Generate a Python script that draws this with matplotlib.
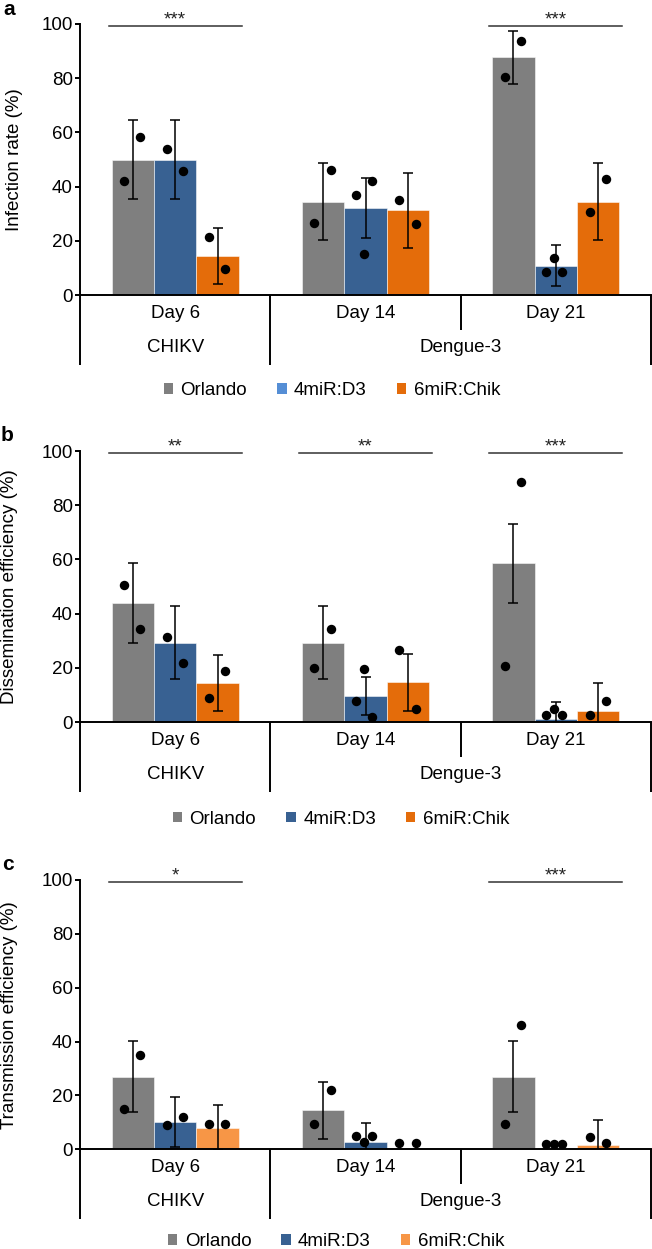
import matplotlib
matplotlib.use('Agg')
import matplotlib.pyplot as plt
from matplotlib.patches import Patch
from matplotlib.transforms import blended_transform_factory

plt.rcParams['font.family'] = ['Liberation Sans', 'DejaVu Sans']

# ---------------- data ----------------
days = ['Day 6', 'Day 14', 'Day 21']
viruses = ['CHIKV', 'Dengue-3']
virus_first_cat = [0, 1]
virus_n_cats = [1, 2]
series = ['Orlando', '4miR:D3', '6miR:Chik']

# Panel a: infection rate
a_orlando = [50.0, 34.4, 87.7]
a_orlando_err = [14.7, 14.2, 9.7]
a_orlando_pts = [[42.2, 58.2], [26.6, 46.1], [80.6, 93.6]]
a_d3 = [50.0, 32.0, 10.8]
a_d3_err = [14.7, 11.1, 7.5]
a_d3_pts = [[53.9, 45.8], [36.8, 15.1, 42.2], [8.6, 13.8, 8.6]]
a_chik = [14.4, 31.2, 34.4]
a_chik_err = [10.3, 13.8, 14.2]
a_chik_pts = [[21.4, 9.5], [35.1, 26.2], [30.6, 42.7]]
a_sig = ['***', '', '***']

# Panel b: dissemination efficiency
b_orlando = [43.9, 29.3, 58.6]
b_orlando_err = [14.6, 13.5, 14.6]
b_orlando_pts = [[50.6, 34.5], [20.1, 34.2], [20.8, 88.4]]
b_d3 = [29.2, 9.6, 1.1]
b_d3_err = [13.5, 7.0, 6.4]
b_d3_pts = [[31.2, 21.8], [7.9, 19.4, 2.0], [2.5, 4.7, 2.5]]
b_chik = [14.5, 14.6, 4.1]
b_chik_err = [10.3, 10.4, 10.4]
b_chik_pts = [[9.0, 18.9], [26.7, 4.7], [2.5, 7.8]]
b_sig = ['**', '**', '***']

# Panel c: transmission efficiency
c_orlando = [27.0, 14.5, 27.0]
c_orlando_err = [13.3, 10.5, 13.3]
c_orlando_pts = [[15.0, 34.9], [9.5, 21.9], [9.5, 46.1]]
c_d3 = [10.1, 2.6, 0.0]
c_d3_err = [9.2, 7.0, 0.0]
c_d3_pts = [[9.1, 12.1], [4.8, 2.8, 4.8], [2.0, 2.0, 2.0]]
c_chik = [8.0, 0.0, 1.7]
c_chik_err = [8.4, 0.0, 9.2]
c_chik_pts = [[9.4, 9.4], [2.5, 2.5], [4.6, 2.3]]
c_sig = ['*', '', '***']

ylabels = ['Infection rate (%)', 'Dissemination efficiency (%)',
           'Transmission efficiency (%)']
letters = ['a', 'b', 'c']
y_ticks = [0, 20, 40, 60, 80, 100]

# ---------------- style ----------------
W, H = 652, 1249
GRAY = '#7F7F7F'
BLUE = '#386192'
ORANGE = '#E46C0A'
LORANGE = '#F79646'
LBLUE = '#558ED5'
bar_colors = [[GRAY, BLUE, ORANGE], [GRAY, BLUE, ORANGE], [GRAY, BLUE, LORANGE]]
legend_colors = [[GRAY, LBLUE, ORANGE], [GRAY, BLUE, ORANGE], [GRAY, BLUE, LORANGE]]
FS = 13.5
LW = 1.4
BW = 0.223
# axes placement in pixels: (left, top(=100), right, bottom(=0))
axes_px = [(80, 24, 651, 295), (80, 451, 651, 722), (80, 880, 651, 1149.3)]
ylabel_x = [15, 10, 10]
letter_pos = [(3, 15), (1, 441), (2, 870)]
legend_pos = [(332, 390.7), (341, 819), (336, 1241.7)]
jitter2 = [-0.045, 0.04]
jitter3 = [-0.05, -0.008, 0.035]

fig = plt.figure(figsize=(W / 100, H / 100), dpi=100)

panels = [
    (a_orlando, a_orlando_err, a_orlando_pts, a_d3, a_d3_err, a_d3_pts,
     a_chik, a_chik_err, a_chik_pts, a_sig),
    (b_orlando, b_orlando_err, b_orlando_pts, b_d3, b_d3_err, b_d3_pts,
     b_chik, b_chik_err, b_chik_pts, b_sig),
    (c_orlando, c_orlando_err, c_orlando_pts, c_d3, c_d3_err, c_d3_pts,
     c_chik, c_chik_err, c_chik_pts, c_sig),
]

for p, pdata in enumerate(panels):
    l, t, r, b = axes_px[p]
    ax = fig.add_axes([l / W, 1 - b / H, (r - l) / W, (b - t) / H])
    ah = b - t
    means = [pdata[0], pdata[3], pdata[6]]
    errs = [pdata[1], pdata[4], pdata[7]]
    pts = [pdata[2], pdata[5], pdata[8]]
    sig = pdata[9]

    centers = [i + 0.5 for i in range(len(days))]
    for s in range(3):
        xs = [c + (s - 1) * BW for c in centers]
        ax.bar(xs, means[s], width=BW, color=bar_colors[p][s],
               edgecolor=(1, 1, 1, 0.6), linewidth=0.6, zorder=2)
        ex = [x for x, e in zip(xs, errs[s]) if e > 0]
        ey = [m for m, e in zip(means[s], errs[s]) if e > 0]
        ee = [e for e in errs[s] if e > 0]
        ax.errorbar(ex, ey, yerr=ee, fmt='none', ecolor='black',
                    elinewidth=1.1, capsize=3.3, capthick=1.1, zorder=3)
        for x, vals in zip(xs, pts[s]):
            jit = jitter2 if len(vals) == 2 else jitter3
            ax.plot([x + j for j in jit], vals, 'o', color='black',
                    markersize=6.8, markeredgewidth=0, zorder=4, clip_on=False)

    # significance bars
    for c, st in zip(centers, sig):
        if st:
            ax.plot([c - 0.35, c + 0.35], [99.3, 99.3], color='#333333',
                    lw=1.1, clip_on=False, zorder=5)
            ax.text(c, 100.0, st, ha='center', va='baseline', fontsize=FS,
                    color='#222222')

    ax.set_xlim(0, 3)
    ax.set_ylim(0, 100)
    ax.set_yticks(y_ticks)
    ax.set_xticks([])
    for sp in ['top', 'right']:
        ax.spines[sp].set_visible(False)
    for sp in ['left', 'bottom']:
        ax.spines[sp].set_linewidth(LW)
        ax.spines[sp].set_color('black')
    ax.tick_params(axis='y', direction='out', length=3.6, width=LW,
                   labelsize=FS, pad=1.5, colors='black')

    tr = blended_transform_factory(ax.transData, ax.transAxes)
    # category separators below the axis
    for xsep in range(len(days) + 1):
        depth = 35 if xsep == 2 else 70
        ax.plot([xsep, xsep], [0, -depth / ah], color='black', lw=LW,
                transform=tr, clip_on=False, solid_capstyle='butt')
    for c, d in zip(centers, days):
        ax.text(c, -18.5 / ah, d, transform=tr, ha='center', va='center',
                fontsize=FS)
    for v, f, n in zip(viruses, virus_first_cat, virus_n_cats):
        ax.text(f + n / 2, -52.5 / ah, v, transform=tr, ha='center',
                va='center', fontsize=FS)

    # y label and panel letter
    fig.text(ylabel_x[p] / W, 1 - (t + b) / 2 / H, ylabels[p], rotation=90,
             ha='center', va='center', fontsize=FS)
    lx, ly = letter_pos[p]
    fig.text(lx / W, 1 - ly / H, letters[p], fontsize=15, fontweight='bold',
             ha='left', va='baseline')

    # legend
    handles = [Patch(facecolor=c, edgecolor='none') for c in legend_colors[p]]
    cx, cy = legend_pos[p]
    ax.legend(handles, series, loc='center', bbox_to_anchor=(cx / W, 1 - cy / H),
              bbox_transform=fig.transFigure, ncol=3, frameon=False,
              handlelength=0.5, handleheight=0.5, handletextpad=0.4,
              columnspacing=1.6, fontsize=FS, borderpad=0, borderaxespad=0)

fig.savefig('out.png', dpi=100)
